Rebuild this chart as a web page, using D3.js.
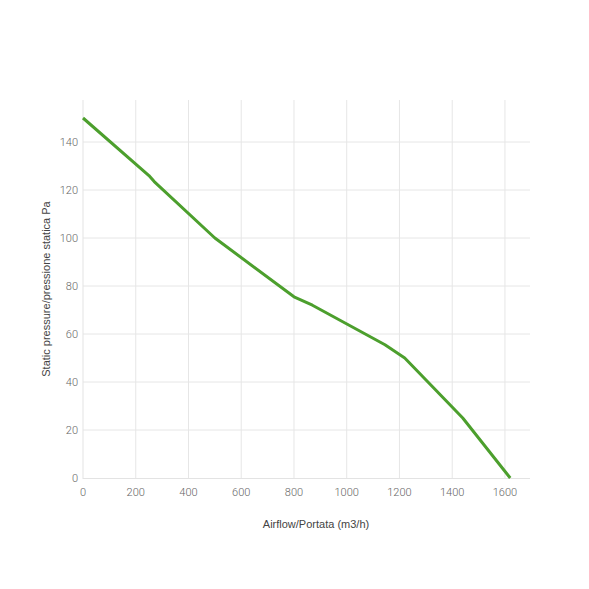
<!DOCTYPE html>
<html>
<head>
<meta charset="utf-8">
<script src="https://cdn.jsdelivr.net/npm/d3@7"></script>
<style>
  body { margin: 0; background: #fff; }
  #chart { width: 589px; height: 589px; }
</style>
</head>
<body>
<div id="chart"></div>
<script>
// Curva ventilatore: portata (m3/h) vs pressione statica (Pa)
const airflow = [0, 250, 270, 500, 800, 870, 1145, 1220, 1440, 1620];
const pressure = [150, 126, 123.5, 100, 75.5, 72, 55.5, 50, 25, 0];
const xTicks = [0, 200, 400, 600, 800, 1000, 1200, 1400, 1600];
const yTicks = [0, 20, 40, 60, 80, 100, 120, 140];

const width = 589, height = 589;
const margin = { left: 83, right: 59, top: 100, bottom: 111 };

const svg = d3.select("#chart")
    .append("svg")
    .attr("width", width)
    .attr("height", height);

const x = d3.scaleLinear()
    .domain([0, 1695])
    .range([margin.left, width - margin.right]);

const y = d3.scaleLinear()
    .domain([0, 157.5])
    .range([height - margin.bottom, margin.top]);

// griglia
svg.append("g")
    .selectAll("line")
    .data(xTicks.slice(1))
    .join("line")
    .attr("x1", d => x(d)).attr("x2", d => x(d))
    .attr("y1", margin.top).attr("y2", y(0))
    .attr("stroke", "#e6e6e6");

svg.append("g")
    .selectAll("line")
    .data(yTicks.slice(1))
    .join("line")
    .attr("x1", margin.left).attr("x2", width - margin.right)
    .attr("y1", d => y(d)).attr("y2", d => y(d))
    .attr("stroke", "#e6e6e6");

// assi
svg.append("line")
    .attr("x1", margin.left).attr("x2", margin.left)
    .attr("y1", margin.top).attr("y2", y(0) + 1)
    .attr("stroke", "#e3e3e3");
svg.append("line")
    .attr("x1", margin.left).attr("x2", width - margin.right)
    .attr("y1", y(0) + 0.5).attr("y2", y(0) + 0.5)
    .attr("stroke", "#e3e3e3");

const tickFont = "Roboto, 'Open Sans', sans-serif";

svg.append("g")
    .selectAll("text")
    .data(xTicks)
    .join("text")
    .attr("x", d => x(d))
    .attr("y", y(0) + 18)
    .attr("text-anchor", "middle")
    .attr("font-family", tickFont)
    .attr("font-size", 11)
    .attr("font-weight", 300)
    .attr("fill", "#666")
    .text(d => d);

svg.append("g")
    .selectAll("text")
    .data(yTicks)
    .join("text")
    .attr("x", margin.left - 5)
    .attr("y", d => y(d) + 4)
    .attr("text-anchor", "end")
    .attr("font-family", tickFont)
    .attr("font-size", 11)
    .attr("font-weight", 300)
    .attr("fill", "#666")
    .text(d => d);

// titoli
svg.append("text")
    .attr("x", 316)
    .attr("y", 528)
    .attr("text-anchor", "middle")
    .attr("font-family", "'Liberation Sans', Arial, sans-serif")
    .attr("font-size", 11)
    .attr("fill", "#444")
    .text("Airflow/Portata (m3/h)");

svg.append("text")
    .attr("transform", `translate(50, ${(margin.top + y(0)) / 2}) rotate(-90)`)
    .attr("text-anchor", "middle")
    .attr("font-family", "'Liberation Sans', Arial, sans-serif")
    .attr("font-size", 11)
    .attr("fill", "#444")
    .text("Static pressure/pressione statica Pa");

// curva
const line = d3.line()
    .x(i => x(airflow[i]))
    .y(i => y(pressure[i]));

svg.append("path")
    .datum(d3.range(airflow.length))
    .attr("d", line)
    .attr("fill", "none")
    .attr("stroke", "#4c9f2d")
    .attr("stroke-width", 3)
    .attr("stroke-linejoin", "round");
</script>
</body>
</html>
